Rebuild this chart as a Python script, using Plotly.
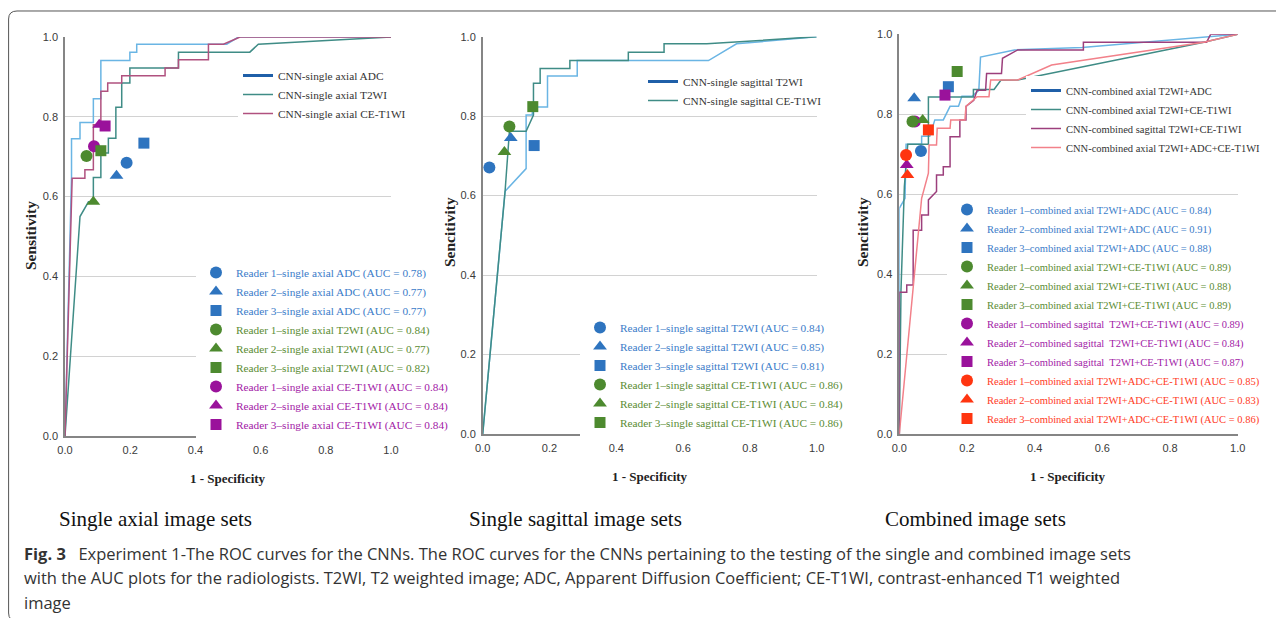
import plotly.graph_objects as go

# ---------------- data ----------------
tick_vals = [0.0, 0.2, 0.4, 0.6, 0.8, 1.0]

# Panel 1: single axial image sets
p1_adc_x = [0, 0.02, 0.02, 0.046, 0.046, 0.087, 0.087, 0.11, 0.11, 0.199, 0.199, 0.22, 0.22, 0.496, 0.532, 1.0]
p1_adc_y = [0, 0.65, 0.745, 0.745, 0.786, 0.786, 0.845, 0.845, 0.941, 0.941, 0.962, 0.962, 0.982, 0.982, 1.0, 1.0]
p1_t2_x = [0, 0.046, 0.072, 0.087, 0.087, 0.11, 0.11, 0.133, 0.133, 0.156, 0.156, 0.174, 0.174, 0.199, 0.199, 0.348, 0.348, 0.567, 0.593, 1.0]
p1_t2_y = [0, 0.55, 0.587, 0.587, 0.648, 0.648, 0.709, 0.709, 0.746, 0.746, 0.824, 0.824, 0.885, 0.885, 0.922, 0.922, 0.962, 0.962, 0.982, 1.0]
p1_ce_x = [0, 0.022, 0.061, 0.061, 0.087, 0.087, 0.11, 0.11, 0.131, 0.131, 0.174, 0.174, 0.307, 0.307, 0.348, 0.348, 0.44, 0.44, 0.486, 0.537, 1.0]
p1_ce_y = [0, 0.646, 0.646, 0.667, 0.667, 0.78, 0.78, 0.864, 0.864, 0.885, 0.885, 0.903, 0.903, 0.922, 0.922, 0.943, 0.943, 0.982, 0.982, 1.0, 1.0]
p1_curve_names = ["CNN-single axial ADC", "CNN-single axial T2WI", "CNN-single axial CE-T1WI"]
p1_reader_names = [
    "Reader 1–single axial ADC (AUC = 0.78)",
    "Reader 2–single axial ADC (AUC = 0.77)",
    "Reader 3–single axial ADC (AUC = 0.77)",
    "Reader 1–single axial T2WI (AUC = 0.84)",
    "Reader 2–single axial T2WI (AUC = 0.77)",
    "Reader 3–single axial T2WI (AUC = 0.82)",
    "Reader 1–single axial CE-T1WI (AUC = 0.84)",
    "Reader 2–single axial CE-T1WI (AUC = 0.84)",
    "Reader 3–single axial CE-T1WI (AUC = 0.84)",
]
p1_reader_x = [0.189, 0.158, 0.242, 0.066, 0.087, 0.110, 0.089, 0.105, 0.123]
p1_reader_y = [0.685, 0.652, 0.734, 0.702, 0.587, 0.715, 0.726, 0.780, 0.777]
p1_reader_group = ["blue", "blue", "blue", "green", "green", "green", "purple", "purple", "purple"]

# Panel 2: single sagittal image sets
p2_t2_x = [0, 0.067, 0.130, 0.130, 0.148, 0.150, 0.194, 0.194, 0.283, 0.283, 0.676, 0.760, 1.0]
p2_t2_y = [0, 0.611, 0.668, 0.803, 0.803, 0.823, 0.823, 0.901, 0.901, 0.940, 0.940, 0.982, 1.0]
p2_ce_x = [0, 0.067, 0.080, 0.130, 0.152, 0.152, 0.172, 0.172, 0.261, 0.261, 0.436, 0.436, 0.543, 0.543, 0.671, 1.0]
p2_ce_y = [0, 0.611, 0.762, 0.762, 0.803, 0.883, 0.883, 0.920, 0.920, 0.940, 0.940, 0.961, 0.961, 0.982, 0.982, 1.0]
p2_curve_names = ["CNN-single sagittal T2WI", "CNN-single sagittal CE-T1WI"]
p2_reader_names = [
    "Reader 1–single sagittal T2WI (AUC = 0.84)",
    "Reader 2–single sagittal T2WI (AUC = 0.85)",
    "Reader 3–single sagittal T2WI (AUC = 0.81)",
    "Reader 1–single sagittal CE-T1WI (AUC = 0.86)",
    "Reader 2–single sagittal CE-T1WI (AUC = 0.84)",
    "Reader 3–single sagittal CE-T1WI (AUC = 0.86)",
]
p2_reader_x = [0.020, 0.084, 0.154, 0.080, 0.065, 0.150]
p2_reader_y = [0.671, 0.745, 0.726, 0.774, 0.710, 0.824]
p2_reader_group = ["blue", "blue", "blue", "green", "green", "green"]

# Panel 3: combined image sets
p3_adc_x = [0, 0, 0.017, 0.02, 0.066, 0.066, 0.09, 0.105, 0.13, 0.15, 0.175, 0.185, 0.215, 0.235, 0.24, 0.34, 0.54, 0.90, 1.0]
p3_adc_y = [0, 0.565, 0.59, 0.725, 0.725, 0.745, 0.745, 0.786, 0.786, 0.82, 0.82, 0.845, 0.845, 0.86, 0.943, 0.961, 0.967, 0.994, 1.0]
p3_ce_x = [0, 0.005, 0.015, 0.025, 0.086, 0.086, 0.219, 0.219, 0.28, 0.30, 0.35, 0.90, 1.0]
p3_ce_y = [0, 0.36, 0.62, 0.725, 0.725, 0.843, 0.843, 0.862, 0.862, 0.885, 0.886, 0.98, 1.0]
p3_sag_x = [0, 0, 0.022, 0.022, 0.041, 0.041, 0.066, 0.066, 0.086, 0.086, 0.11, 0.11, 0.13, 0.13, 0.15, 0.15, 0.179, 0.179, 0.197, 0.197, 0.22, 0.23, 0.255, 0.258, 0.302, 0.305, 0.35, 0.544, 0.544, 0.908, 0.92, 1.0]
p3_sag_y = [0, 0.355, 0.355, 0.373, 0.373, 0.51, 0.51, 0.548, 0.548, 0.586, 0.607, 0.648, 0.648, 0.669, 0.669, 0.744, 0.744, 0.786, 0.786, 0.82, 0.835, 0.86, 0.86, 0.902, 0.902, 0.94, 0.961, 0.961, 0.98, 0.98, 1.0, 1.0]
p3_all_x = [0, 0.066, 0.086, 0.088, 0.11, 0.112, 0.15, 0.152, 0.194, 0.197, 0.23, 0.265, 0.27, 0.35, 0.45, 0.90, 1.0]
p3_all_y = [0, 0.59, 0.653, 0.723, 0.723, 0.765, 0.765, 0.786, 0.786, 0.82, 0.844, 0.844, 0.886, 0.886, 0.923, 0.98, 1.0]
p3_curve_names = ["CNN-combined axial T2WI+ADC", "CNN-combined axial T2WI+CE-T1WI",
                  "CNN-combined sagittal T2WI+CE-T1WI", "CNN-combined axial T2WI+ADC+CE-T1WI"]
p3_reader_names = [
    "Reader 1–combined axial T2WI+ADC (AUC = 0.84)",
    "Reader 2–combined axial T2WI+ADC (AUC = 0.91)",
    "Reader 3–combined axial T2WI+ADC (AUC = 0.88)",
    "Reader 1–combined axial T2WI+CE-T1WI (AUC = 0.89)",
    "Reader 2–combined axial T2WI+CE-T1WI (AUC = 0.88)",
    "Reader 3–combined axial T2WI+CE-T1WI (AUC = 0.89)",
    "Reader 1–combined sagittal  T2WI+CE-T1WI (AUC = 0.89)",
    "Reader 2–combined sagittal  T2WI+CE-T1WI (AUC = 0.84)",
    "Reader 3–combined sagittal  T2WI+CE-T1WI (AUC = 0.87)",
    "Reader 1–combined axial T2WI+ADC+CE-T1WI (AUC = 0.85)",
    "Reader 2–combined axial T2WI+ADC+CE-T1WI (AUC = 0.83)",
    "Reader 3–combined axial T2WI+ADC+CE-T1WI (AUC = 0.86)",
]
p3_reader_x = [0.064, 0.044, 0.145, 0.039, 0.069, 0.171, 0.046, 0.022, 0.135, 0.020, 0.024, 0.086]
p3_reader_y = [0.708, 0.840, 0.869, 0.782, 0.786, 0.907, 0.782, 0.673, 0.848, 0.698, 0.648, 0.761]
p3_reader_group = ["blue"] * 3 + ["green"] * 3 + ["purple"] * 3 + ["red"] * 3

panel_titles = ["Single axial image sets", "Single sagittal image sets", "Combined image sets"]
y_titles = ["Sensitivity", "Sencitivity", "Sencitivity"]
x_title = "1 - Specificity"
caption_lines = [
    "<b>Fig. 3</b>\u2002 Experiment 1-The ROC curves for the CNNs. The ROC curves for the CNNs pertaining to the testing of the single and combined image sets",
    "with the AUC plots for the radiologists. T2WI, T2 weighted image; ADC, Apparent Diffusion Coefficient; CE-T1WI, contrast-enhanced T1 weighted",
    "image",
]

# ---------------- style ----------------
W, H = 1268, 610
OFF = 8
def X(px): return (px - OFF) / W
def Y(py): return 1 - (py - OFF) / H

SERIF = "Liberation Serif, Times New Roman, serif"
SANS = "Liberation Sans, Arial, sans-serif"
C_LIGHTBLUE = "#6ab5e4"
C_TEAL = "#3f8c86"
C_MAUVE = "#b0517f"
C_SAG = "#9c3f7c"
C_PINK = "#f2818a"
C_LEG_BLUE = "#1f5fa8"
MARKER_COL = {"blue": "#2e74bf", "green": "#4d8a2f", "purple": "#9a129b", "red": "#ff3510"}
TEXT_COL = {"blue": "#3b7cc9", "green": "#5b8c34", "purple": "#a21aa6", "red": "#ff3a1e"}
SYMBOLS = ["circle", "triangle-up", "square"]

fig = go.Figure()

panels = [
    dict(ax="", dx=(65, 391), dy=(436, 37),
         curves=[(p1_adc_x, p1_adc_y, C_LIGHTBLUE), (p1_t2_x, p1_t2_y, C_TEAL), (p1_ce_x, p1_ce_y, C_MAUVE)],
         cnames=p1_curve_names, rnames=p1_reader_names, rx=p1_reader_x, ry=p1_reader_y, rg=p1_reader_group,
         leg_c=(238, 61), leg_r=(196, 258), fs=11.3, ytx=30, yty=236, xtx=228, xty=479, ttx=57),
    dict(ax="2", dx=(482.7, 816.7), dy=(434, 36.7),
         curves=[(p2_t2_x, p2_t2_y, C_LIGHTBLUE), (p2_ce_x, p2_ce_y, C_TEAL)],
         cnames=p2_curve_names, rnames=p2_reader_names, rx=p2_reader_x, ry=p2_reader_y, rg=p2_reader_group,
         leg_c=(643, 67), leg_r=(580, 313), fs=11.3, ytx=449, yty=232, xtx=650, xty=476, ttx=467),
    dict(ax="3", dx=(899.3, 1237.7), dy=(434.3, 34.3),
         curves=[(p3_adc_x, p3_adc_y, C_LIGHTBLUE), (p3_ce_x, p3_ce_y, C_TEAL), (p3_sag_x, p3_sag_y, C_SAG), (p3_all_x, p3_all_y, C_PINK)],
         cnames=p3_curve_names, rnames=p3_reader_names, rx=p3_reader_x, ry=p3_reader_y, rg=p3_reader_group,
         leg_c=(1026, 76), leg_r=(947, 195), fs=10.5, ytx=862, yty=232, xtx=1068, xty=476, ttx=883),
]

layout_extra = {}
annotations = []
for i, p in enumerate(panels):
    a = p["ax"]
    xa, ya = "x" + a, "y" + a
    lc = "legend" if i == 0 else "legend%d" % (2 * i + 1)
    lr = "legend%d" % (2 * i + 2)
    # curves (first entry shown in legend with a dark blue proxy key)
    for k, (cx, cy, col) in enumerate(p["curves"]):
        if k == 0:
            fig.add_trace(go.Scatter(x=[None], y=[None], mode="lines", name=p["cnames"][k],
                                     line=dict(color=C_LEG_BLUE, width=3), xaxis=xa, yaxis=ya,
                                     legend=lc, legendrank=k + 1, hoverinfo="skip"))
        fig.add_trace(go.Scatter(x=cx, y=cy, mode="lines", name=p["cnames"][k],
                                 line=dict(color=col, width=1.5), cliponaxis=False,
                                 showlegend=(k != 0), xaxis=xa, yaxis=ya, legend=lc, legendrank=k + 1))
    # reader points (purple drawn under green, legend order kept by rank)
    order = list(range(len(p["rnames"])))
    order = sorted(order, key=lambda j: {"blue": 0, "purple": 1, "green": 2, "red": 3}[p["rg"][j]])
    for j in order:
        g = p["rg"][j]
        fig.add_trace(go.Scatter(
            x=[p["rx"][j]], y=[p["ry"][j]], mode="markers",
            name='<span style="color:%s">%s</span>' % (TEXT_COL[g], p["rnames"][j]),
            marker=dict(symbol=SYMBOLS[j % 3], color=MARKER_COL[g], size=12 if j % 3 != 2 else 11,
                        line=dict(width=0)),
            cliponaxis=False, xaxis=xa, yaxis=ya, legend=lr, legendrank=j + 1))

    axis_common = dict(range=[0, 1], showline=True, linecolor="#858585", linewidth=1.5,
                       ticks="", tickvals=tick_vals, tickformat=".1f", zeroline=False,
                       tickfont=dict(family=SANS, size=11, color="#3a3a3a"), fixedrange=True)
    layout_extra["xaxis" + a] = dict(axis_common, domain=[X(p["dx"][0]), X(p["dx"][1])],
                                     anchor=ya, showgrid=False, ticklabelstandoff=3)
    layout_extra["yaxis" + a] = dict(axis_common, domain=[Y(p["dy"][0]), Y(p["dy"][1])],
                                     anchor=xa, showgrid=True, gridcolor="#d2d2d2", gridwidth=1.2,
                                     ticklabelstandoff=3)
    leg_common = dict(xanchor="left", yanchor="top", bgcolor="white", borderwidth=0,
                      font=dict(family=SERIF, size=p["fs"], color="#333333"), itemwidth=30,
                      tracegroupgap=0, traceorder="normal")
    layout_extra[lc] = dict(leg_common, x=X(p["leg_c"][0]), y=Y(p["leg_c"][1]))
    layout_extra[lr] = dict(leg_common, x=X(p["leg_r"][0]), y=Y(p["leg_r"][1]))

    annotations.append(dict(text="<b>%s</b>" % y_titles[i], x=X(p["ytx"]), y=Y(p["yty"]),
                            xref="paper", yref="paper", xanchor="center", yanchor="middle",
                            showarrow=False, textangle=-90,
                            font=dict(family=SERIF, size=15.5, color="#222222")))
    annotations.append(dict(text="<b>%s</b>" % x_title, x=X(p["xtx"]), y=Y(p["xty"]),
                            xref="paper", yref="paper", xanchor="center", yanchor="middle",
                            showarrow=False,
                            font=dict(family=SERIF, size=13, color="#222222")))
    annotations.append(dict(text=panel_titles[i], x=X(p["ttx"]), y=Y(519), xref="paper", yref="paper",
                            xanchor="left", yanchor="middle", showarrow=False,
                            font=dict(family=SERIF, size=21, color="#111111")))

for n, line in enumerate(caption_lines):
    annotations.append(dict(text=line, x=X(22), y=Y(553 + 24.5 * n), xref="paper", yref="paper",
                            xanchor="left", yanchor="middle", showarrow=False, align="left",
                            font=dict(family="Open Sans, sans-serif", size=16.5, color="#333333")))

border_path = "M %f,%f L %f,%f Q %f,%f %f,%f L %f,%f Q %f,%f %f,%f" % (
    X(1300), Y(11), X(17), Y(11), X(8.6), Y(11), X(8.6), Y(19),
    X(8.6), Y(613), X(8.6), Y(621), X(17), Y(621))

fig.update_layout(
    width=W, height=H,
    margin=dict(l=0, r=0, t=0, b=0, pad=0, autoexpand=False),
    paper_bgcolor="white", plot_bgcolor="white",
    annotations=annotations,
    shapes=[dict(type="path", path=border_path, xref="paper", yref="paper",
                 line=dict(color="#555555", width=1))],
    **layout_extra,
)

fig.write_html("out.html")
